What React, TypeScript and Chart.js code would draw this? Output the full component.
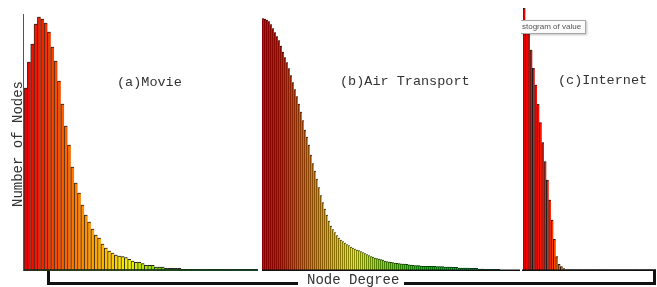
import React, { useEffect, useRef } from "react";
import { Chart, registerables } from "chart.js";

Chart.register(...registerables);

// ---- data (number of nodes per degree bin) ----
const movieCounts = [
  183, 209, 227, 247, 254, 252, 248, 239, 224, 210,
  190, 167, 145, 126, 104, 88, 78, 66, 56, 49,
  42, 36, 33, 27, 23, 20, 18, 16, 15, 14.3,
  13.3, 11.7, 10, 8.7, 8.7, 7.3, 5.7, 5.7, 5.7, 4,
  4, 4, 2.7, 2.7, 2.7, 2.7, 2.7, 1.7, 1.7, 1.7,
  1.7, 1.7, 1.7, 1.7, 1.7, 1.7, 1.7, 1.7, 1.7, 1.7,
  1.7, 1.7, 1.7, 1.7, 1.7, 1.7, 1.7, 1.7, 1.7, 1.7,
];

const airCounts = [
  252.5, 252, 251, 249.5, 246.5, 242.5, 238.5, 234.5, 230.5, 225,
  219, 213.5, 208.5, 202.5, 195.5, 188.5, 181.5, 174.5, 167, 159,
  150.5, 141, 134, 126, 116, 107.5, 100, 92, 83.5, 75.5,
  68.5, 62, 56, 50, 45, 41.5, 38.5, 35.5, 33, 31,
  29.5, 28, 26.5, 25.5, 24, 23, 22, 21, 20.5, 19.5,
  18.5, 17.5, 16.5, 15.5, 14.5, 14, 13, 12.5, 12, 11.5,
  11, 10, 9.5, 9, 8.7, 8.3, 8, 7.7, 7.4, 7.2,
  7, 6.8, 6.6, 6.2, 6, 5.7, 5.5, 5.4, 5.3, 5,
  4.7, 4.7, 4.7, 4.7, 4.7, 4.7, 4.7, 4.3, 4.3, 4.3,
  4.3, 4, 4, 4, 4, 3.7, 3.7, 3.7, 3, 3,
  3, 3, 3, 3, 2.7, 2.7, 2.7, 2.7, 2, 2,
  2, 1.7, 1.7, 1.7, 1.7, 1.7, 1.7, 1.7, 1.7, 0,
  0, 0, 0, 0, 0, 0, 0, 0, 0,
];

const internetCounts = [
  262.7, 250, 238, 221, 202.7, 186, 166.7, 148.3, 128.3, 109.3,
  91, 71, 51, 31.7, 14.3, 6.7, 4.3, 2.3, 1.5, 1.5,
  1.5, 1.5, 1.5, 1.5, 1.5, 1.5, 1.5, 1.5, 1.5, 1.5,
  1.5, 1.5, 1.5, 1.5, 1.5, 1.5, 1.5, 1.5, 1.5, 1.5,
  1.5, 1.5, 1.5, 1.5, 1.5, 1.5, 1.5, 1.5, 1.5, 1.5,
  1.5, 1.5, 1.5, 1.5, 1.5, 1.5, 1.5,
];

const panelLabels = ["(a)Movie", "(b)Air Transport", "(c)Internet"];
const yTitle = "Number of Nodes";
const xTitle = "Node Degree";
const hoverText = "stogram of value";

// ---- styles: colour ramps [binIndex, hue, saturation, lightness] ----
type Stop = [number, number, number, number];
const movieRamp: Stop[] = [
  [0, 0, 100, 47], [14, 28, 100, 50], [25, 46, 100, 50], [30, 58, 100, 48],
  [36, 75, 100, 45], [45, 105, 90, 42], [69, 150, 65, 42],
];
const airRamp: Stop[] = [
  [0, 0, 100, 50], [9, 5, 100, 50], [19, 22, 100, 52], [29, 38, 100, 52],
  [41, 55, 100, 52], [46, 60, 100, 52], [59, 85, 100, 48], [79, 115, 100, 45],
  [109, 145, 100, 42], [128, 155, 80, 45],
];
const internetRamp: Stop[] = [
  [0, 0, 100, 48], [10, 6, 100, 50], [14, 22, 100, 50], [17, 28, 100, 48],
  [20, 45, 90, 32], [56, 70, 80, 32],
];

function rampColor(stops: Stop[], i: number, lightFactor = 1): string {
  let a = stops[0];
  let b = stops[stops.length - 1];
  for (let k = 0; k < stops.length - 1; k++) {
    if (i >= stops[k][0] && i <= stops[k + 1][0]) {
      a = stops[k];
      b = stops[k + 1];
      break;
    }
  }
  const span = b[0] - a[0] || 1;
  const t = Math.min(1, Math.max(0, (i - a[0]) / span));
  const h = a[1] + (b[1] - a[1]) * t;
  const s = a[2] + (b[2] - a[2]) * t;
  const l = (a[3] + (b[3] - a[3]) * t) * lightFactor;
  return `hsl(${h.toFixed(1)}, ${s.toFixed(1)}%, ${l.toFixed(1)}%)`;
}

const FONT = "'Courier New', 'Liberation Mono', monospace";
const PLOT_H = 271;

const decor = {
  id: "decor",
  beforeDatasetsDraw(chart: any, _a: any, opts: any) {
    const c = chart.ctx;
    c.save();
    c.shadowColor = opts.shadow || "rgba(0,0,0,0.25)";
    c.shadowOffsetX = 1;
    c.shadowOffsetY = -1;
    c.shadowBlur = 0;
  },
  afterDatasetsDraw(chart: any, _a: any, opts: any) {
    const c = chart.ctx;
    c.restore();
    const { left, right, bottom } = chart.chartArea;
    c.save();
    c.strokeStyle = opts.baseColor;
    c.lineWidth = opts.baseWidth;
    c.beginPath();
    const from = opts.baseFrom != null ? opts.baseFrom : left;
    c.moveTo(from, bottom - opts.baseWidth / 2);
    c.lineTo(right, bottom - opts.baseWidth / 2);
    c.stroke();
    if (opts.axisTop != null) {
      c.strokeStyle = opts.axisColor;
      c.lineWidth = 1;
      c.beginPath();
      c.moveTo(left - 0.5, opts.axisTop);
      c.lineTo(left - 0.5, bottom);
      c.stroke();
    }
    c.restore();
  },
};

type PanelProps = {
  values: number[];
  ramp: Stop[];
  left: number;
  width: number;
  padLeft: number;
  border: string | null;
  borderDark?: number;
  decorOpts: any;
};

function Panel({ values, ramp, left, width, padLeft, border, borderDark, decorOpts }: PanelProps) {
  const ref = useRef<HTMLCanvasElement>(null);
  useEffect(() => {
    const colors = values.map((_, i) => rampColor(ramp, i));
    const borders = border
      ? border
      : values.map((_, i) => rampColor(ramp, i, borderDark || 0.3));
    const chart = new Chart(ref.current as HTMLCanvasElement, {
      type: "bar",
      data: {
        labels: values.map((_, i) => String(i + 1)),
        datasets: [
          {
            data: values,
            backgroundColor: colors,
            borderColor: borders,
            borderWidth: { left: 1, top: 1, right: 0, bottom: 0 },
            borderSkipped: false,
            barPercentage: 1,
            categoryPercentage: 1,
          } as any,
        ],
      },
      options: {
        responsive: false,
        animation: false,
        devicePixelRatio: 1,
        events: [],
        layout: { padding: { left: padLeft, right: 0, top: 0, bottom: 0 } },
        plugins: {
          legend: { display: false },
          tooltip: { enabled: false },
          title: { display: false },
          decor: decorOpts,
        } as any,
        scales: {
          x: { display: false },
          y: { display: false, min: 0, max: PLOT_H },
        },
      },
      plugins: [decor as any],
    });
    return () => chart.destroy();
  }, []);
  return (
    <canvas
      ref={ref}
      width={width}
      height={PLOT_H}
      style={{ position: "absolute", left, top: 0, width, height: PLOT_H }}
    />
  );
}

const line = (left: number, top: number, width: number, height: number) => (
  <div style={{ position: "absolute", left, top, width, height, background: "#111" }} />
);

export default function App() {
  const label = (text: string, left: number, top: number) => (
    <div
      style={{
        position: "absolute",
        left,
        top,
        font: `13.5px ${FONT}`,
        lineHeight: "13.5px",
        color: "#333",
        whiteSpace: "nowrap",
      }}
    >
      {text}
    </div>
  );
  return (
    <div
      style={{
        position: "absolute",
        left: 0,
        top: 0,
        width: 657,
        height: 287,
        background: "#fff",
        overflow: "hidden",
      }}
    >
      <Panel
        values={movieCounts}
        ramp={movieRamp}
        left={22}
        width={236}
        padLeft={2}
        border="rgba(20,10,0,0.85)"
        decorOpts={{ baseColor: "rgba(20,50,30,0.85)", baseWidth: 2, baseFrom: 1, axisTop: 14, axisColor: "#555" }}
      />
      <Panel
        values={airCounts}
        ramp={airRamp}
        left={262}
        width={258}
        padLeft={0}
        border={null}
        borderDark={0.3}
        decorOpts={{ baseColor: "#111", baseWidth: 1.5, shadow: "rgba(0,0,0,0.2)" }}
      />
      <Panel
        values={internetCounts}
        ramp={internetRamp}
        left={522}
        width={134}
        padLeft={1}
        border="rgba(0,0,0,0.85)"
        decorOpts={{ baseColor: "#111", baseWidth: 1.5, baseFrom: 0 }}
      />

      {label(panelLabels[0], 117, 76)}
      {label(panelLabels[1], 340, 75)}
      {label(panelLabels[2], 558, 73.5)}

      <div
        style={{
          position: "absolute",
          left: 18 - 70,
          top: 144 - 7,
          width: 140,
          height: 14,
          font: `14px ${FONT}`,
          lineHeight: "14px",
          color: "#333",
          textAlign: "center",
          transform: "rotate(-90deg)",
          whiteSpace: "nowrap",
        }}
      >
        {yTitle}
      </div>

      {line(47, 271, 3, 14)}
      {line(47, 282, 251, 3)}
      {line(404, 282, 252, 3)}
      {line(653, 270, 3, 15)}
      <div
        style={{
          position: "absolute",
          left: 307,
          top: 272.5,
          font: `14px ${FONT}`,
          lineHeight: "14px",
          color: "#333",
          whiteSpace: "nowrap",
        }}
      >
        {xTitle}
      </div>

      <div
        style={{
          position: "absolute",
          left: 521,
          top: 20,
          width: 63,
          height: 12,
          background: "#fbfbfb",
          border: "1px solid #a8a8a8",
          borderLeft: "none",
          boxShadow: "1px 1px 2px rgba(0,0,0,0.25)",
          font: "8px 'Liberation Sans', Arial, sans-serif",
          lineHeight: "12px",
          color: "#555",
          whiteSpace: "nowrap",
          overflow: "hidden",
          paddingLeft: 1,
        }}
      >
        {hoverText}
      </div>
    </div>
  );
}
